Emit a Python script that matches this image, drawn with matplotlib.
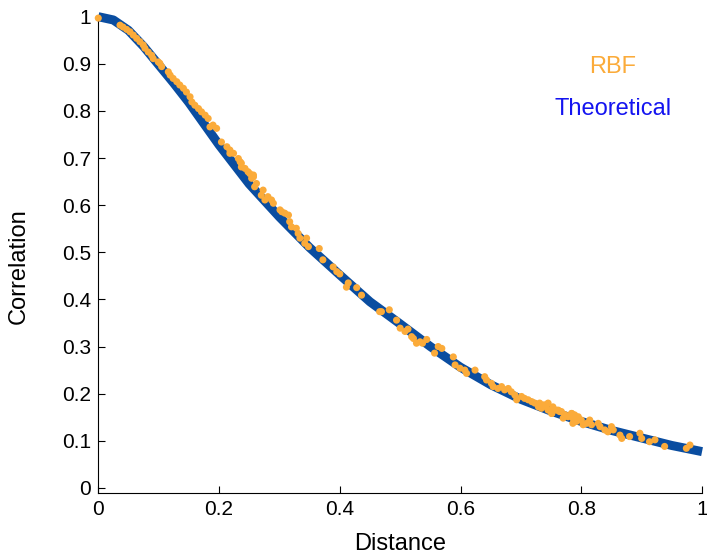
import matplotlib
matplotlib.use("Agg")
import matplotlib.pyplot as plt

plt.rcParams['font.family'] = ['Liberation Sans', 'DejaVu Sans']

# Theoretical correlation curve
theo_d = [0.000, 0.025, 0.050, 0.075, 0.100, 0.125, 0.150, 0.175, 0.20, 0.25, 0.30,
          0.35, 0.40, 0.45, 0.50, 0.55, 0.60, 0.65, 0.70, 0.75, 0.80, 0.85, 0.90,
          0.95, 1.00]
theo_c = [1.000, 0.993, 0.971, 0.937, 0.898, 0.859, 0.818, 0.773, 0.728, 0.645, 0.575,
          0.510, 0.452, 0.395, 0.348, 0.300, 0.256, 0.219, 0.188, 0.163, 0.141, 0.122, 0.106,
          0.090, 0.077]

# RBF estimates
rbf_d = [0.000,
         0.036, 0.041, 0.047, 0.0525, 0.058, 0.0636, 0.069, 0.0745, 0.0773, 0.0828,
         0.0884, 0.091, 0.0993, 0.102, 0.105, 0.116, 0.119, 0.124, 0.130, 0.135,
         0.141, 0.146, 0.152, 0.155, 0.160, 0.166, 0.171, 0.177, 0.182, 0.190,
         0.185, 0.196, 0.204, 0.213, 0.218, 0.224, 0.232, 0.237, 0.243, 0.251, 0.257,
         0.218, 0.235, 0.237, 0.248, 0.257, 0.254, 0.262, 0.259, 0.273, 0.270,
         0.281, 0.287, 0.276, 0.290, 0.301, 0.309, 0.304, 0.315, 0.317, 0.320,
         0.328, 0.331, 0.334, 0.345, 0.342, 0.348,
         0.366, 0.372, 0.389, 0.395, 0.400, 0.414, 0.411, 0.428, 0.436, 0.466,
         0.469, 0.482, 0.494, 0.500, 0.508, 0.513, 0.519, 0.522, 0.527, 0.533,
         0.537, 0.544, 0.557, 0.563, 0.569, 0.588, 0.591, 0.599, 0.607, 0.610,
         0.624, 0.640, 0.643, 0.651, 0.654, 0.662, 0.668, 0.673, 0.679, 0.684,
         0.690, 0.693, 0.701, 0.706, 0.712, 0.718, 0.723, 0.729, 0.734, 0.740,
         0.745, 0.751, 0.753, 0.762, 0.767, 0.773, 0.778, 0.784, 0.789, 0.792,
         0.786, 0.795,
         0.731, 0.737, 0.742, 0.745, 0.753, 0.751, 0.759, 0.764, 0.773, 0.770,
         0.784, 0.786, 0.792, 0.795, 0.800, 0.803, 0.809, 0.814, 0.817, 0.828,
         0.831, 0.839, 0.844, 0.850, 0.853, 0.864, 0.867, 0.880, 0.897, 0.900,
         0.913, 0.922, 0.938, 0.974, 0.980]
rbf_c = [0.997,
         0.982, 0.978, 0.973, 0.968, 0.961, 0.954, 0.947, 0.940, 0.933, 0.925,
         0.918, 0.911, 0.904, 0.901, 0.894, 0.883, 0.876, 0.869, 0.862, 0.855,
         0.848, 0.840, 0.830, 0.819, 0.812, 0.805, 0.798, 0.791, 0.784, 0.770,
         0.766, 0.763, 0.734, 0.724, 0.717, 0.710, 0.699, 0.689, 0.678, 0.667, 0.660,
         0.710, 0.692, 0.681, 0.671, 0.664, 0.657, 0.646, 0.639, 0.632, 0.621,
         0.618, 0.611, 0.611, 0.604, 0.590, 0.583, 0.586, 0.579, 0.565, 0.554,
         0.551, 0.540, 0.530, 0.530, 0.519, 0.512,
         0.508, 0.484, 0.469, 0.459, 0.454, 0.435, 0.426, 0.425, 0.409, 0.374,
         0.374, 0.378, 0.356, 0.339, 0.332, 0.337, 0.321, 0.317, 0.307, 0.310,
         0.307, 0.315, 0.286, 0.300, 0.296, 0.278, 0.261, 0.254, 0.250, 0.243,
         0.250, 0.236, 0.229, 0.222, 0.215, 0.211, 0.215, 0.208, 0.211, 0.204,
         0.197, 0.187, 0.194, 0.190, 0.187, 0.183, 0.180, 0.172, 0.169, 0.176,
         0.165, 0.158, 0.172, 0.165, 0.162, 0.155, 0.151, 0.158, 0.155, 0.148,
         0.137, 0.144,
         0.180, 0.176, 0.172, 0.180, 0.169, 0.158, 0.165, 0.162, 0.155, 0.148,
         0.158, 0.148, 0.141, 0.151, 0.144, 0.134, 0.137, 0.144, 0.134, 0.137,
         0.130, 0.123, 0.119, 0.130, 0.123, 0.112, 0.105, 0.109, 0.116, 0.105,
         0.098, 0.102, 0.088, 0.084, 0.091]

xticks = [0, 0.2, 0.4, 0.6, 0.8, 1]
xticklabels = ['0', '0.2', '0.4', '0.6', '0.8', '1']
yticks = [0, 0.1, 0.2, 0.3, 0.4, 0.5, 0.6, 0.7, 0.8, 0.9, 1]
yticklabels = ['0', '0.1', '0.2', '0.3', '0.4', '0.5', '0.6', '0.7', '0.8', '0.9', '1']

blue = '#0a4da0'
orange = '#fbab3a'

fig = plt.figure(figsize=(7.07, 5.56), dpi=100)
ax = fig.add_axes([0.139, 0.114, 0.854, 0.856])

ax.plot(theo_d, theo_c, color=blue, linewidth=6.5, solid_capstyle='butt',
        solid_joinstyle='round', clip_on=False, zorder=2)
ax.scatter(rbf_d, rbf_c, s=26, color=orange, edgecolors='none', zorder=3, clip_on=False)

ax.set_xlim(0, 1)
ax.set_ylim(-0.01, 1.0)
ax.set_xticks(xticks)
ax.set_xticklabels(xticklabels)
ax.set_yticks(yticks)
ax.set_yticklabels(yticklabels)
ax.tick_params(direction='in', length=5, width=0.8, labelsize=15, pad=5)
for s in ['top', 'right']:
    ax.spines[s].set_visible(False)
for s in ['left', 'bottom']:
    ax.spines[s].set_linewidth(0.8)

ax.set_xlabel('Distance', fontsize=17, labelpad=10.5)
ax.set_ylabel('Correlation', fontsize=17)
ax.yaxis.set_label_coords(-0.113, 0.475)

ax.text(0.852, 0.895, 'RBF', color=orange, fontsize=17, ha='center', va='center',
        transform=ax.transAxes)
ax.text(0.853, 0.807, 'Theoretical', color='#1414f0', fontsize=17, ha='center', va='center',
        transform=ax.transAxes)

fig.savefig('out.png', dpi=100)
